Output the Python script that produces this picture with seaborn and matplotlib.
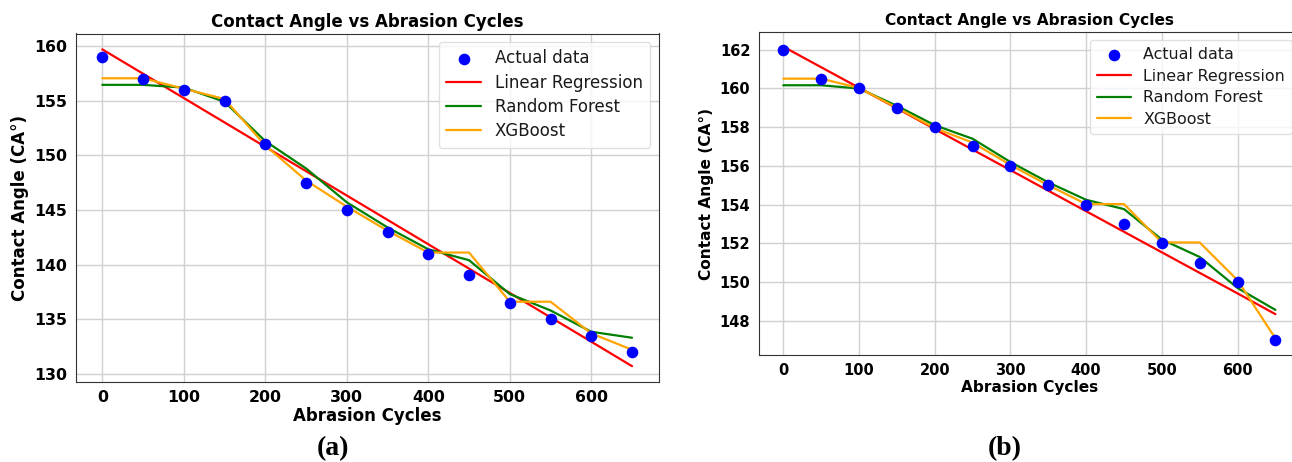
import matplotlib
matplotlib.use("Agg")
import matplotlib.pyplot as plt
import seaborn as sns
import numpy as np

# ---- data ----
cycles = [0, 50, 100, 150, 200, 250, 300, 350, 400, 450, 500, 550, 600, 650]

a_actual = [159, 157, 156, 155, 151, 147.5, 145, 143, 141, 139, 136.5, 135, 133.5, 132]
a_linear = [159.7, 157.47, 155.24, 153.01, 150.78, 148.55, 146.32, 144.09, 141.86,
            139.63, 137.4, 135.17, 132.94, 130.7]
a_rf = [156.45, 156.45, 156.2, 154.9, 151.3, 148.8, 145.7, 143.4, 141.4, 140.4,
        137.3, 135.8, 133.85, 133.3]
a_xgb = [157.05, 157.05, 156.1, 155.15, 150.9, 147.7, 145.3, 143.1, 141.1, 141.1,
         136.6, 136.6, 133.7, 132.2]

b_actual = [162, 160.5, 160, 159, 158, 157, 156, 155, 154, 153, 152, 151, 150, 147]
b_linear = [162.15, 161.09, 160.03, 158.97, 157.9, 156.84, 155.78, 154.72, 153.66,
            152.6, 151.54, 150.48, 149.42, 148.35]
b_rf = [160.16, 160.16, 159.99, 159.1, 158.1, 157.4, 156.2, 155.15, 154.25, 153.77,
        152.2, 151.3, 149.7, 148.57]
b_xgb = [160.5, 160.5, 160.02, 159.0, 157.95, 157.2, 156.05, 155.0, 154.03, 154.03,
         152.05, 152.05, 150.1, 147.1]

title = "Contact Angle vs Abrasion Cycles"
xlabel = "Abrasion Cycles"
ylabel = "Contact Angle (CA°)"
labels = ["Actual data", "Linear Regression", "Random Forest", "XGBoost"]
panel_labels = ["(a)", "(b)"]

sns.set_style("whitegrid", {"axes.edgecolor": "0.2", "grid.color": "0.82",
                            "axes.linewidth": 1.2, "text.color": "black",
                            "axes.labelcolor": "black", "xtick.color": "black",
                            "ytick.color": "black"})
plt.rcParams["font.family"] = ["DejaVu Sans"]

fig = plt.figure(figsize=(12.92, 4.62), dpi=100)
W, H = 1292, 462

def make_axes(left, top, right, bottom):
    return fig.add_axes([left / W, 1 - bottom / H, (right - left) / W, (bottom - top) / H])

axA = make_axes(75.8, 33.5, 658.5, 382)
axB = make_axes(758.7, 32, 1300, 355)

def draw(ax, actual, lin, rf, xgb, fs, tfs, lfs, lspace):
    sns.scatterplot(x=cycles, y=actual, ax=ax, color="blue", s=70, edgecolor="blue",
                    linewidth=0, label=labels[0], zorder=3)
    sns.lineplot(x=cycles, y=lin, ax=ax, color="red", linewidth=1.6, label=labels[1])
    sns.lineplot(x=cycles, y=rf, ax=ax, color="green", linewidth=1.6, label=labels[2])
    sns.lineplot(x=cycles, y=xgb, ax=ax, color="orange", linewidth=1.6, label=labels[3])
    ax.set_title(title, fontsize=fs, fontweight="bold", pad=5, color="black")
    ax.set_xlabel(xlabel, fontsize=fs, fontweight="bold", labelpad=1, color="black")
    ax.set_ylabel(ylabel, fontsize=fs, fontweight="bold", color="black")
    ax.set_xticks([0, 100, 200, 300, 400, 500, 600])
    for t in ax.get_xticklabels() + ax.get_yticklabels():
        t.set_fontweight("bold")
        t.set_fontsize(tfs)
        t.set_color("black")
    ax.tick_params(axis="both", length=0, pad=6)
    leg = ax.legend(loc="upper right", fontsize=lfs, frameon=True, framealpha=0.8,
                    edgecolor="0.85", handlelength=2.1, borderpad=0.45,
                    labelspacing=lspace)
    for t in leg.get_texts():
        t.set_color("0.1")
    ax.grid(True, linewidth=1.0)

draw(axA, a_actual, a_linear, a_rf, a_xgb, 12, 11.3, 12.0, 0.38)
axA.set_yticks([130, 135, 140, 145, 150, 155, 160])
draw(axB, b_actual, b_linear, b_rf, b_xgb, 11.1, 10.5, 11.4, 0.42)
axB.set_yticks([148, 150, 152, 154, 156, 158, 160, 162])

fig.text(333 / W, 1 - 449 / H, panel_labels[0], ha="center", va="center",
         fontsize=20, fontweight="bold", family=["Liberation Serif"])
fig.text(1005 / W, 1 - 449 / H, panel_labels[1], ha="center", va="center",
         fontsize=20, fontweight="bold", family=["Liberation Serif"])

fig.savefig("out.png", dpi=100)
